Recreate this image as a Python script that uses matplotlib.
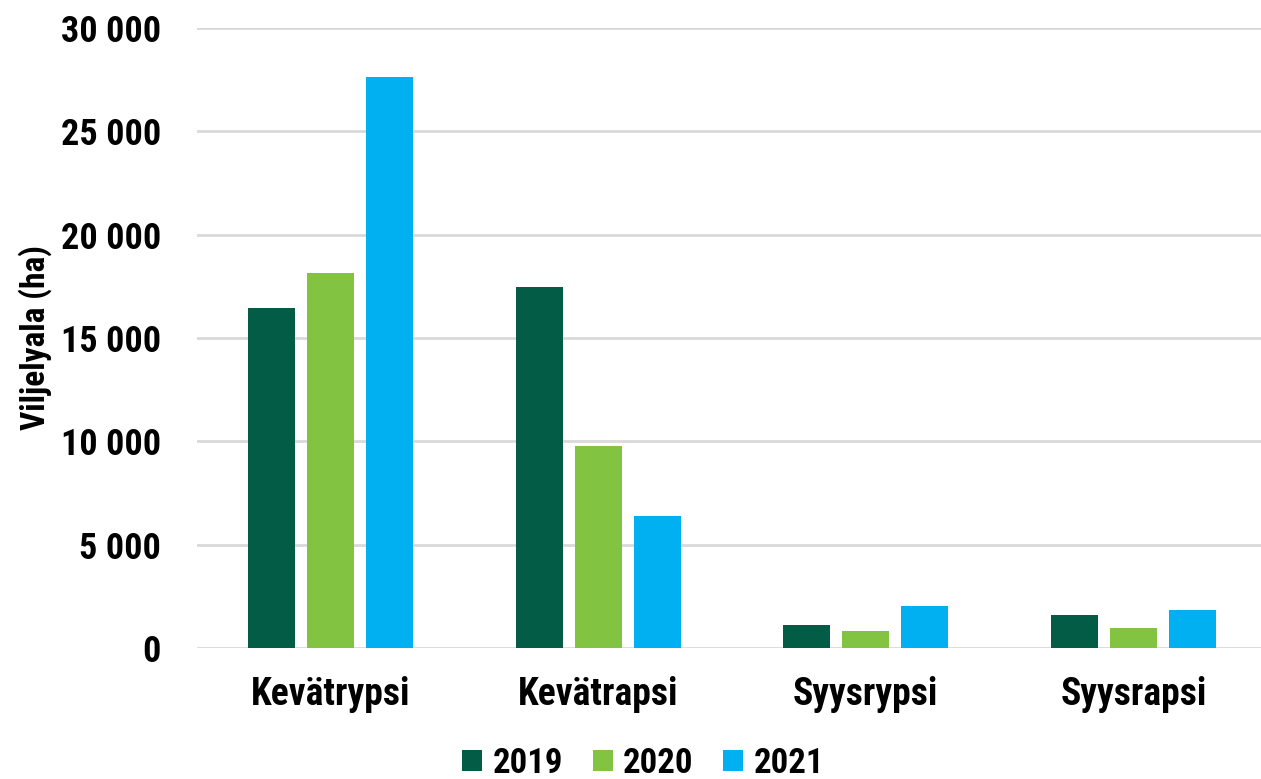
import numpy as np
import matplotlib.pyplot as plt
from matplotlib.ticker import FuncFormatter

#Data
categories=['Kevätrypsi','Kevätrapsi','Syysrypsi','Syysrapsi']
years=['2019','2020','2021']
v2019=[16430,17480,1100,1580]
v2020=[18130,9790,800,950]
v2021=[27640,6390,2020,1820]
colors=['#035c45','#82c341','#00b0f0']

plt.rcParams['font.family']=['Roboto Condensed','Liberation Sans Narrow','Roboto','DejaVu Sans']
plt.rcParams['font.weight']='bold'

fig=plt.figure(figsize=(12.61,7.79),dpi=100)
ax=fig.add_axes([197/1261,1-648/779,1070/1261,(648-28)/779])

x=np.arange(len(categories))
w=0.176
step=0.221
for i,(vals,lab) in enumerate(zip([v2019,v2020,v2021],years)):
    ax.bar(x+(i-1)*step,vals,width=w,color=colors[i],label=lab,zorder=3)

ax.set_xlim(-0.5,3.5)
ax.set_ylim(0,30000)
ax.set_yticks(range(0,30001,5000))
ax.yaxis.set_major_formatter(FuncFormatter(lambda v,p:'{:,}'.format(int(v)).replace(',',' ')))
ax.grid(axis='y',color='#d9d9d9',linewidth=2,zorder=0)
for s in ax.spines.values():
    s.set_visible(False)
ax.tick_params(axis='y',length=0,labelsize=26,colors='black',pad=26)
ax.tick_params(axis='x',length=0,labelsize=27,colors='black',pad=20)
ax.set_xticks(x)
ax.set_xticklabels(categories,fontweight='bold')
for t in ax.get_yticklabels():
    t.set_fontweight('bold')
ax.set_ylabel('Viljelyala (ha)',fontsize=24,fontweight='bold',va='center')
ax.yaxis.set_label_coords(-0.151,0.5)

fig.legend(loc='center',bbox_to_anchor=(0.51,0.02),ncol=3,frameon=False,
           handlelength=0.58,handleheight=0.58,handletextpad=0.3,columnspacing=0.85,
           prop={'weight':'bold','size':25})

fig.savefig('out.png',dpi=100)
